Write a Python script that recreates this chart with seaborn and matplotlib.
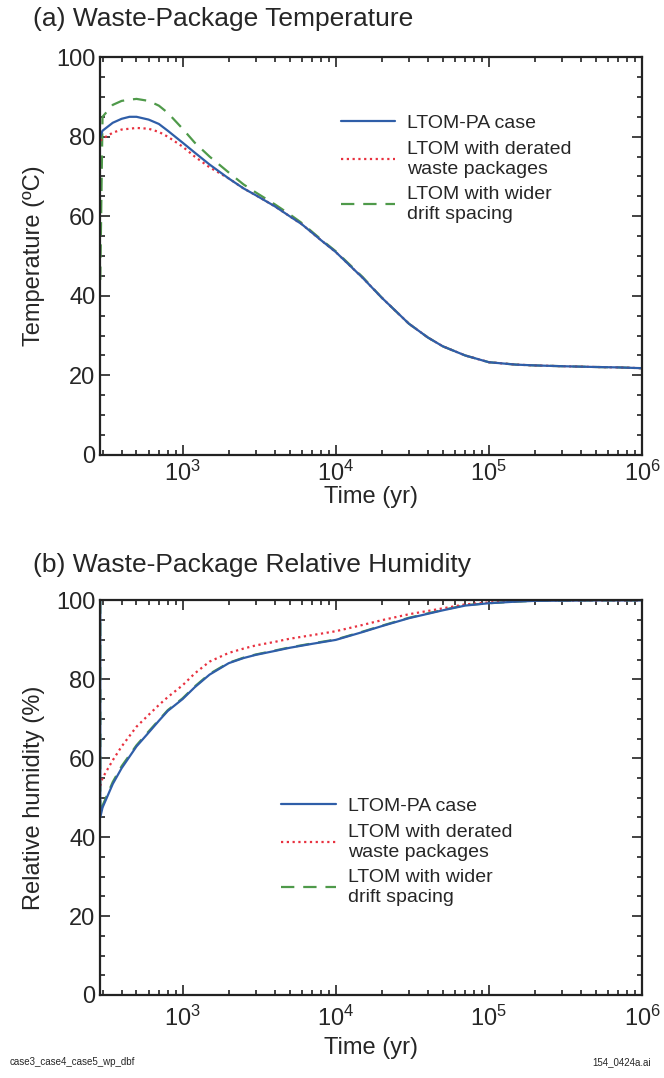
import matplotlib
matplotlib.use("Agg")
import matplotlib.pyplot as plt
import matplotlib.ticker as mticker
from matplotlib.lines import Line2D
import pandas as pd
import seaborn as sns

# --- data ---
cases = ["LTOM-PA case", "LTOM with derated\nwaste packages", "LTOM with wider\ndrift spacing"]

time_temp = [290, 300, 350, 400, 450, 500, 600, 700, 800, 1000, 1200, 1500, 2000, 2500, 3000,
             4000, 5000, 6000, 8000, 1e4, 1.5e4, 2e4, 3e4, 4e4, 5e4, 7e4, 1e5, 1.5e5, 2e5,
             3e5, 5e5, 7e5, 1e6]
temp_pa = [80, 81.5, 83.5, 84.5, 85, 85, 84.3, 83.2, 81.5, 78.5, 76, 73, 69.5, 67, 65.3,
           62.5, 60, 58, 54, 51, 44.5, 39.5, 33, 29.5, 27.3, 25, 23.3, 22.7, 22.5,
           22.3, 22.1, 22, 21.8]
temp_derated = [79, 79.5, 81, 81.8, 82, 82.2, 82, 81.2, 80, 77.5, 75, 72.3, 69.5, 67, 65.3,
                62.5, 60, 58, 54, 51, 44.5, 39.5, 33, 29.5, 27.3, 25, 23.3, 22.7, 22.5,
                22.3, 22.1, 22, 21.8]
temp_wider = [44, 85, 88, 89, 89.3, 89.5, 89, 87.8, 86, 82, 78.5, 75, 71, 68, 66,
              63, 60.5, 58.3, 54.2, 51.2, 44.7, 39.5, 33, 29.5, 27.3, 25, 23.3, 22.7, 22.5,
              22.3, 22.1, 22, 21.8]

time_rh = [290, 290, 300, 350, 400, 500, 600, 700, 800, 1000, 1200, 1500, 2000, 2500, 3000,
           4000, 5000, 7000, 1e4, 1.5e4, 2e4, 3e4, 5e4, 7e4, 1e5, 1.5e5, 2e5, 5e5, 1e6]
rh_pa = [100, 45, 47.5, 53.5, 57.5, 63, 66.5, 69.5, 72, 75, 78, 81.2, 84.1, 85.4, 86.2,
         87.2, 88, 89, 90, 92, 93.5, 95.5, 97.5, 98.7, 99.3, 99.7, 99.9, 100, 100]
rh_derated = [53, 53, 55, 59.5, 63, 68, 71, 73.5, 75.5, 78.5, 81.5, 84.5, 86.7, 87.8, 88.6,
              89.5, 90.3, 91.2, 92.2, 93.8, 95, 96.5, 98, 99, 99.5, 99.8, 100, 100, 100]
rh_wider = [100, 45.5, 48, 54, 58, 63.3, 66.8, 69.7, 72.2, 75.2, 78.2, 81.4, 84.2, 85.5, 86.3,
            87.3, 88.1, 89.1, 90.1, 92.1, 93.6, 95.6, 97.6, 98.8, 99.3, 99.7, 99.9, 100, 100]

colors = {cases[0]: "#2f5ea8", cases[1]: "#e8313f", cases[2]: "#4f9a4a"}
dashes = {cases[0]: "", cases[1]: (1, 1.6), cases[2]: (6, 4)}


def long_frame(t, series):
    frames = []
    for name, vals in zip(cases, series):
        frames.append(pd.DataFrame({"time": t, "value": vals, "case": name}))
    return pd.concat(frames, ignore_index=True)


df_temp = long_frame(time_temp, [temp_pa, temp_derated, temp_wider])
df_rh = long_frame(time_rh, [rh_pa, rh_derated, rh_wider])

sns.set_theme(style="ticks")
plt.rcParams["font.family"] = ["Liberation Sans", "DejaVu Sans"]
plt.rcParams["mathtext.fontset"] = "custom"
plt.rcParams["mathtext.rm"] = "Liberation Sans"
plt.rcParams["mathtext.it"] = "Liberation Sans"
plt.rcParams["mathtext.default"] = "regular"

fig = plt.figure(figsize=(6.64, 10.78), dpi=100)
ax_t = fig.add_axes([0.151, 0.578, 0.816, 0.369])
ax_h = fig.add_axes([0.151, 0.077, 0.816, 0.366])

draw_order = [cases[2], cases[1], cases[0]]


def draw(ax, df, ylabel, legend_anchor, xpad, lpad):
    for name in draw_order:
        sub = df[df["case"] == name]
        sns.lineplot(data=sub, x="time", y="value", color=colors[name], lw=1.6,
                     estimator=None, sort=False, ax=ax)
        if dashes[name]:
            ax.lines[-1].set_dashes(dashes[name])
    ax.set_xscale("log")
    ax.set_xlim(290, 1e6)
    ax.set_ylim(0, 100)
    ax.yaxis.set_major_locator(mticker.MultipleLocator(20))
    ax.yaxis.set_minor_locator(mticker.MultipleLocator(5))
    ax.xaxis.set_major_locator(mticker.LogLocator(base=10, numticks=10))
    ax.xaxis.set_minor_locator(mticker.LogLocator(base=10, subs=range(2, 10), numticks=20))
    ax.xaxis.set_minor_formatter(mticker.NullFormatter())
    ax.tick_params(which="both", direction="in", top=True, right=True, labelsize=17,
                   color="#222222", width=1.2)
    ax.tick_params(which="major", length=7)
    ax.tick_params(which="minor", length=3.5)
    ax.tick_params(axis="x", pad=xpad)
    for s in ax.spines.values():
        s.set_linewidth(1.6)
        s.set_color("#222222")
    ax.set_xlabel("Time (yr)", fontsize=17, labelpad=lpad)
    ax.set_ylabel(ylabel, fontsize=17, labelpad=8)

    handles = [Line2D([], [], color=colors[c], lw=1.6, ls="-") for c in cases]
    for h, c in zip(handles, cases):
        if dashes[c]:
            h.set_dashes(dashes[c])
    ax.legend(handles, cases, loc="upper left", bbox_to_anchor=legend_anchor, frameon=False,
              fontsize=14, handlelength=2.8, handletextpad=0.6, labelspacing=0.45,
              borderaxespad=0)


draw(ax_t, df_temp, "Temperature (ºC)", (0.43, 0.875), 4, 0)
draw(ax_h, df_rh, "Relative humidity (%)", (0.32, 0.52), 8, 4)

fig.text(0.05, 0.982, "(a) Waste-Package Temperature", fontsize=19, ha="left", va="center")
fig.text(0.05, 0.476, "(b) Waste-Package Relative Humidity", fontsize=19, ha="left", va="center")
fig.text(0.015, 0.015, "case3_case4_case5_wp_dbf", fontsize=7, ha="left", va="center")
fig.text(0.98, 0.015, "154_0424a.ai", fontsize=7, ha="right", va="center")

fig.savefig("out.png", dpi=100, facecolor="white")
